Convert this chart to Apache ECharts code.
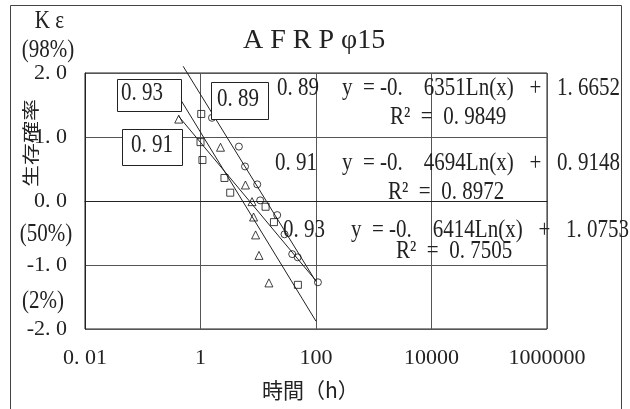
<!DOCTYPE html>
<html>
<head>
<meta charset="utf-8">
<script src="https://cdn.jsdelivr.net/npm/echarts@6/dist/echarts.min.js"></script>
<style>
  html, body { margin: 0; padding: 0; background: #fff; }
  #main { width: 630px; height: 409px; }
</style>
</head>
<body>
<div id="main"></div>
<script>
// 観測点（時間 h, Kε）
var circX = [1.58, 4.62, 5.9, 9.6, 10.8, 21.3, 28.5, 38.7, 48.2, 108];
var circY = [1.30, 0.85, 0.54, 0.26, 0.01, -0.22, -0.52, -0.83, -0.88, -1.27];
var sqX = [1.03, 1.0, 1.08, 2.6, 3.27, 13.4, 18.7, 48.6];
var sqY = [1.36, 0.92, 0.64, 0.36, 0.13, -0.09, -0.33, -1.31];
var triX = [0.42, 2.22, 6.0, 7.8, 8.3, 9.0, 10.3, 15.3];
var triY = [1.28, 0.84, 0.25, -0.01, -0.25, -0.53, -0.85, -1.28];

// 近似曲線 y = a Ln(x) + b
var fitName = ['0.89', '0.91', '0.93'];
var fitSlope = [-0.6351, -0.4694, -0.6414];
var fitIcept = [1.6652, 0.9148, 1.0753];
var fitR2 = ['0.9849', '0.8972', '0.7505'];
var fitFrom = [0.5, 0.42, 0.45];
var fitTo = [100, 100, 100];

var xTicks = ['0. 01', '1', '100', '10000', '1000000'];
var yTicks = ['-2. 0', '-1. 0', '0. 0', '1. 0', '2. 0'];

var SERIF = '"Liberation Serif", "DejaVu Serif", serif';
var CJK = '"Noto Sans CJK JP", sans-serif';
var INK = '#222';

function pairs(xs, ys) {
	return xs.map(function (x, i) { return [x, ys[i]]; });
}

function trendData(i) {
	return [fitFrom[i], fitTo[i]].map(function (x) {
		return [x, fitSlope[i] * Math.log(x) + fitIcept[i]];
	});
}

function spaced(num) {
	// 0.89 -> "0. 89"
	return num.replace('.', '. ');
}

function eqText(i) {
	var a = Math.abs(fitSlope[i]).toFixed(4).split('.');
	var b = fitIcept[i].toFixed(4).split('.');
	return 'y  = -' + a[0] + '.    ' + a[1] + 'Ln(x)   +   ' + b[0] + '. ' + b[1];
}

function txt(text, x, y, size, align, font) {
	return {
		type: 'text', x: x, y: y, z: 20, scaleY: font ? 1 : 1.15,
		style: {
			text: text, fill: INK,
			font: size + 'px ' + (font || SERIF),
			align: align || 'left', verticalAlign: 'middle',
			textAlign: align || 'left', textVerticalAlign: 'middle'
		}
	};
}

function box(x, y, w, h) {
	return {
		type: 'rect', z: 15,
		shape: { x: x + 0.5, y: y + 0.5, width: w, height: h },
		style: { fill: '#fff', stroke: INK, lineWidth: 1 }
	};
}

var eqRowY = [89, 164, 231];
var nameX = [277, 275, 283];
var eqX = [342, 342, 351];
var r2RowY = [118, 193, 252];
var r2X = [390, 388, 396];

var graphics = [
	{
		type: 'rect', z: 0, silent: true,
		shape: { x: 10.5, y: 5.5, width: 611, height: 440 },
		style: { fill: 'none', stroke: '#444', lineWidth: 1 }
	},
	txt('K ε', 64, 22, 21, 'right'),
	txt('(98%)', 48, 51, 21, 'center'),
	txt('(50%)', 46, 235, 21, 'center'),
	txt('(2%)', 43, 302, 21, 'center'),
	{
		type: 'text', x: 31, y: 143, z: 20, rotation: Math.PI / 2, scaleY: 0.75,
		style: {
			text: '生存確率', fill: INK, font: '22px ' + CJK,
			align: 'center', verticalAlign: 'middle',
			textAlign: 'center', textVerticalAlign: 'middle'
		}
	},
	txt('時間（h）', 262, 390, 21, 'left', CJK),
	box(117, 79, 64, 32), txt(spaced(fitName[2]), 121, 94, 21),
	box(211, 82, 57, 37), txt(spaced(fitName[0]), 217, 100, 21),
	box(122, 129, 60, 36), txt(spaced(fitName[1]), 131, 146, 21)
];

for (var i = 0; i < 3; i++) {
	graphics.push(txt(spaced(fitName[i]), nameX[i], eqRowY[i], 21));
	graphics.push(txt(eqText(i), eqX[i], eqRowY[i], 21));
	graphics.push(txt('R²  =  ' + spaced(fitR2[i]), r2X[i], r2RowY[i], 21));
}

var markStyle = { color: 'transparent', borderColor: '#111', borderWidth: 1 };

var myChart = echarts.init(document.getElementById('main'), null, { renderer: 'canvas' });

var option = {
	backgroundColor: '#fff',
	animation: false,
	title: {
		text: 'A F R P φ15',
		left: 238, top: 22,
		textStyle: { fontFamily: SERIF, fontSize: 28, fontWeight: 'normal', color: INK }
	},
	grid: {
		left: 85, right: 83, top: 73, bottom: 80,
		show: true, borderColor: INK, borderWidth: 1
	},
	xAxis: {
		type: 'log', logBase: 100,
		min: 0.01, max: 1000000, splitNumber: 4,
		axisLine: { lineStyle: { color: INK } },
		axisTick: { show: false },
		splitLine: { show: true, lineStyle: { color: '#555', width: 1 } },
		axisLabel: {
			margin: 18, fontSize: 22, fontFamily: SERIF, color: INK,
			formatter: function (v) {
				var k = Math.round(Math.log(v) / Math.log(100)) + 1;
				return xTicks[k];
			}
		}
	},
	yAxis: {
		type: 'value', min: -2, max: 2, interval: 1,
		axisLine: { show: true, lineStyle: { color: INK } },
		axisTick: { show: false },
		splitLine: { show: true, lineStyle: { color: '#555', width: 1 } },
		axisLabel: {
			margin: 18, fontSize: 22, fontFamily: SERIF, color: INK,
			formatter: function (v) { return yTicks[Math.round(v) + 2]; }
		}
	},
	series: [
		{ name: fitName[0], type: 'scatter', symbol: 'circle', symbolSize: 7, z: 4, itemStyle: markStyle, data: pairs(circX, circY) },
		{ name: fitName[1], type: 'scatter', symbol: 'rect', symbolSize: 7, z: 4, itemStyle: markStyle, data: pairs(sqX, sqY) },
		{ name: fitName[2], type: 'scatter', symbol: 'triangle', symbolSize: 8, z: 4, itemStyle: markStyle, data: pairs(triX, triY) }
	].concat([0, 1, 2].map(function (i) {
		return {
			name: fitName[i] + ' trend', type: 'line', symbol: 'none', clip: false, silent: true, z: 3,
			lineStyle: { color: INK, width: 1 },
			data: trendData(i)
		};
	})),
	graphic: graphics
};

myChart.setOption(option);
</script>
</body>
</html>
